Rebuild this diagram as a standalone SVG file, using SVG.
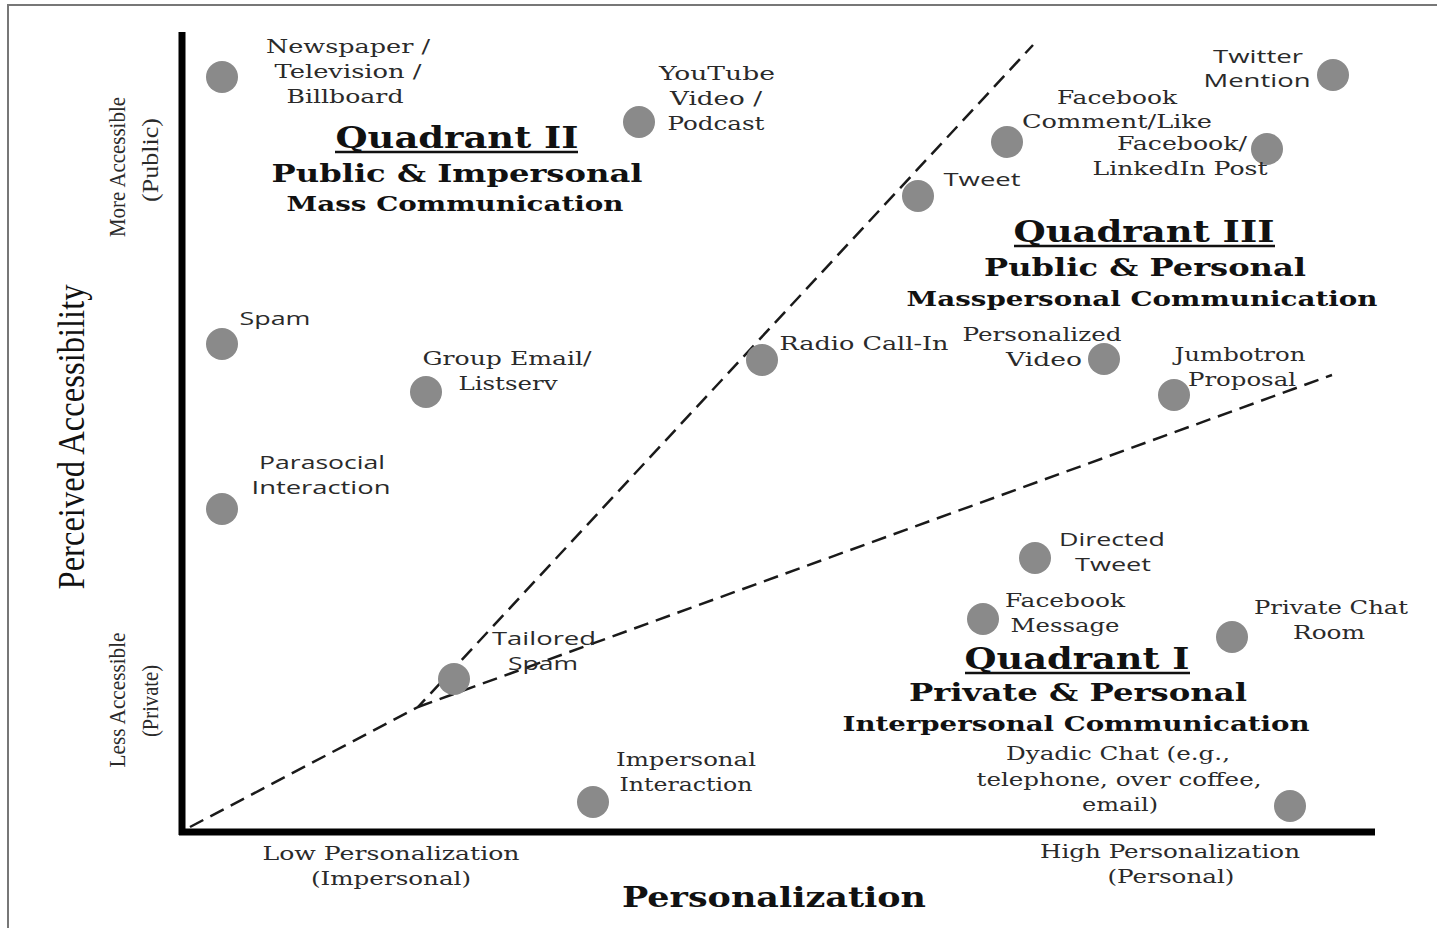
<svg xmlns="http://www.w3.org/2000/svg" width="1437" height="928" viewBox="0 0 1437 928">
<style>
.lbl{font-family:"DejaVu Serif","Liberation Serif",serif;font-size:19px;fill:#2a2a2a;text-anchor:middle}
.tm{font-family:"Liberation Serif","Times New Roman",serif;fill:#2a2a2a;text-anchor:middle}
.sans{font-family:"Open Sans","DejaVu Sans",sans-serif;font-size:19px;fill:#2a2a2a;text-anchor:middle}
.q{font-family:"DejaVu Serif","Liberation Serif",serif;font-weight:bold;fill:#111;text-anchor:middle}
.dot{fill:#8a8a8a}
.dash{stroke:#1a1a1a;stroke-width:2.5;stroke-dasharray:15 8;fill:none}
.ax{stroke:#000;stroke-width:7;fill:none}
.ul{stroke:#111;stroke-width:2.5}
</style>
<rect x="0" y="0" width="1437" height="928" fill="#fff"/>
<rect x="8" y="5" width="1460" height="960" fill="none" stroke="#777" stroke-width="2"/>

<g id="axes">
<line class="ax" x1="182" y1="32" x2="182" y2="835"/>
<line class="ax" x1="179" y1="832" x2="1375" y2="832"/>
<text class="tm" style="font-size:38px;fill:#111" transform="translate(84,437) rotate(-90)" textLength="305" lengthAdjust="spacingAndGlyphs">Perceived Accessibility</text>
<text class="tm" style="font-size:23px" transform="translate(125,167) rotate(-90)" textLength="140" lengthAdjust="spacingAndGlyphs">More Accessible</text>
<text class="tm" style="font-size:23px" transform="translate(158,160) rotate(-90)" textLength="84" lengthAdjust="spacingAndGlyphs">(Public)</text>
<text class="tm" style="font-size:23px" transform="translate(125,700) rotate(-90)" textLength="135" lengthAdjust="spacingAndGlyphs">Less Accessible</text>
<text class="tm" style="font-size:23px" transform="translate(158,701) rotate(-90)" textLength="72" lengthAdjust="spacingAndGlyphs">(Private)</text>
<text class="lbl" x="391" y="860" textLength="257" lengthAdjust="spacingAndGlyphs">Low Personalization</text>
<text class="lbl" x="391" y="885" textLength="160" lengthAdjust="spacingAndGlyphs">(Impersonal)</text>
<text class="lbl" x="1170" y="858" textLength="260" lengthAdjust="spacingAndGlyphs">High Personalization</text>
<text class="lbl" x="1171" y="883" textLength="127" lengthAdjust="spacingAndGlyphs">(Personal)</text>
<text class="q" x="774" y="907" style="font-size:28px" textLength="304" lengthAdjust="spacingAndGlyphs">Personalization</text>
</g>

<g id="connectors">
<path class="dash" d="M190,827 L418,707 L1033,45"/>
<line class="dash" x1="418" y1="707" x2="1332" y2="375"/>
</g>

<g id="quadrant2">
<text class="q" x="457" y="148" style="font-size:30px" textLength="243" lengthAdjust="spacingAndGlyphs">Quadrant II</text>
<line class="ul" x1="335" y1="152" x2="578" y2="152"/>
<text class="q" x="457" y="182" style="font-size:25px" textLength="371" lengthAdjust="spacingAndGlyphs">Public &amp; Impersonal</text>
<text class="q" x="455" y="211" style="font-size:21px" textLength="337" lengthAdjust="spacingAndGlyphs">Mass Communication</text>
</g>
<g id="quadrant3">
<text class="q" x="1144" y="242" style="font-size:30px" textLength="261" lengthAdjust="spacingAndGlyphs">Quadrant III</text>
<line class="ul" x1="1014" y1="246" x2="1275" y2="246"/>
<text class="q" x="1145" y="276" style="font-size:25px" textLength="322" lengthAdjust="spacingAndGlyphs">Public &amp; Personal</text>
<text class="q" x="1142" y="306" style="font-size:21px" textLength="471" lengthAdjust="spacingAndGlyphs">Masspersonal Communication</text>
</g>
<g id="quadrant1">
<text class="q" x="1077" y="669" style="font-size:30px" textLength="225" lengthAdjust="spacingAndGlyphs">Quadrant I</text>
<line class="ul" x1="965" y1="673" x2="1190" y2="673"/>
<text class="q" x="1078" y="701" style="font-size:25px" textLength="338" lengthAdjust="spacingAndGlyphs">Private &amp; Personal</text>
<text class="q" x="1076" y="731" style="font-size:21px" textLength="467" lengthAdjust="spacingAndGlyphs">Interpersonal Communication</text>
</g>

<g id="newspaper"><circle class="dot" cx="222" cy="77" r="16"/>
<text class="lbl" x="348" y="53" textLength="164" lengthAdjust="spacingAndGlyphs">Newspaper /</text>
<text class="lbl" x="348" y="78" textLength="147" lengthAdjust="spacingAndGlyphs">Television /</text>
<text class="lbl" x="345" y="103" textLength="117" lengthAdjust="spacingAndGlyphs">Billboard</text></g>

<g id="youtube"><circle class="dot" cx="639" cy="122" r="16"/>
<text class="lbl" x="717" y="80" textLength="116" lengthAdjust="spacingAndGlyphs">YouTube</text>
<text class="lbl" x="716" y="105" textLength="92" lengthAdjust="spacingAndGlyphs">Video /</text>
<text class="lbl" x="716" y="130" textLength="97" lengthAdjust="spacingAndGlyphs">Podcast</text></g>

<g id="twitter-mention"><circle class="dot" cx="1333" cy="75" r="16"/>
<text class="sans" x="1258" y="63" textLength="90" lengthAdjust="spacingAndGlyphs">Twitter</text>
<text class="sans" x="1257" y="87" textLength="107" lengthAdjust="spacingAndGlyphs">Mention</text></g>

<g id="fb-comment"><circle class="dot" cx="1007" cy="142" r="16"/>
<text class="lbl" x="1117" y="104" textLength="120" lengthAdjust="spacingAndGlyphs">Facebook</text>
<text class="lbl" x="1117" y="128" textLength="190" lengthAdjust="spacingAndGlyphs">Comment/Like</text></g>

<g id="fb-post"><circle class="dot" cx="1267" cy="149" r="16"/>
<text class="lbl" x="1182" y="150" textLength="130" lengthAdjust="spacingAndGlyphs">Facebook/</text>
<text class="lbl" x="1180" y="175" textLength="175" lengthAdjust="spacingAndGlyphs">LinkedIn Post</text></g>

<g id="tweet"><circle class="dot" cx="918" cy="196" r="16"/>
<text class="sans" x="982" y="186" textLength="77" lengthAdjust="spacingAndGlyphs">Tweet</text></g>

<g id="spam"><circle class="dot" cx="222" cy="344" r="16"/>
<text class="sans" x="275" y="325" textLength="71" lengthAdjust="spacingAndGlyphs">Spam</text></g>

<g id="group-email"><circle class="dot" cx="426" cy="392" r="16"/>
<text class="lbl" x="507" y="365" textLength="169" lengthAdjust="spacingAndGlyphs">Group Email/</text>
<text class="lbl" x="508" y="390" textLength="99" lengthAdjust="spacingAndGlyphs">Listserv</text></g>

<g id="radio"><circle class="dot" cx="762" cy="360" r="16"/>
<text class="lbl" x="864" y="350" textLength="169" lengthAdjust="spacingAndGlyphs">Radio Call-In</text></g>

<g id="personalized-video"><circle class="dot" cx="1104" cy="359" r="16"/>
<text class="lbl" x="1042" y="341" textLength="159" lengthAdjust="spacingAndGlyphs">Personalized</text>
<text class="lbl" x="1044" y="366" textLength="76" lengthAdjust="spacingAndGlyphs">Video</text></g>

<g id="jumbotron"><circle class="dot" cx="1174" cy="395" r="16"/>
<text class="lbl" x="1240" y="361" textLength="131" lengthAdjust="spacingAndGlyphs">Jumbotron</text>
<text class="lbl" x="1242" y="386" textLength="108" lengthAdjust="spacingAndGlyphs">Proposal</text></g>

<g id="parasocial"><circle class="dot" cx="222" cy="509" r="16"/>
<text class="sans" x="322" y="469" textLength="126" lengthAdjust="spacingAndGlyphs">Parasocial</text>
<text class="sans" x="321" y="494" textLength="139" lengthAdjust="spacingAndGlyphs">Interaction</text></g>

<g id="directed-tweet"><circle class="dot" cx="1035" cy="558" r="16"/>
<text class="sans" x="1112" y="546" textLength="106" lengthAdjust="spacingAndGlyphs">Directed</text>
<text class="sans" x="1113" y="571" textLength="76" lengthAdjust="spacingAndGlyphs">Tweet</text></g>

<g id="fb-message"><circle class="dot" cx="983" cy="619" r="16"/>
<text class="lbl" x="1065" y="607" textLength="120" lengthAdjust="spacingAndGlyphs">Facebook</text>
<text class="lbl" x="1065" y="632" textLength="109" lengthAdjust="spacingAndGlyphs">Message</text></g>

<g id="private-chat"><circle class="dot" cx="1232" cy="637" r="16"/>
<text class="lbl" x="1331" y="614" textLength="154" lengthAdjust="spacingAndGlyphs">Private Chat</text>
<text class="lbl" x="1329" y="639" textLength="72" lengthAdjust="spacingAndGlyphs">Room</text></g>

<g id="tailored-spam"><circle class="dot" cx="454" cy="679" r="16"/>
<text class="sans" x="544" y="645" textLength="104" lengthAdjust="spacingAndGlyphs">Tailored</text>
<text class="sans" x="543" y="670" textLength="70" lengthAdjust="spacingAndGlyphs">Spam</text></g>

<g id="impersonal-interaction"><circle class="dot" cx="593" cy="802" r="16"/>
<text class="lbl" x="686" y="766" textLength="140" lengthAdjust="spacingAndGlyphs">Impersonal</text>
<text class="lbl" x="686" y="791" textLength="133" lengthAdjust="spacingAndGlyphs">Interaction</text></g>

<g id="dyadic-chat"><circle class="dot" cx="1290" cy="806" r="16"/>
<text class="lbl" x="1118" y="760" textLength="224" lengthAdjust="spacingAndGlyphs">Dyadic Chat (e.g.,</text>
<text class="lbl" x="1119" y="786" textLength="285" lengthAdjust="spacingAndGlyphs">telephone, over coffee,</text>
<text class="lbl" x="1120" y="811" textLength="76" lengthAdjust="spacingAndGlyphs">email)</text></g>
</svg>
